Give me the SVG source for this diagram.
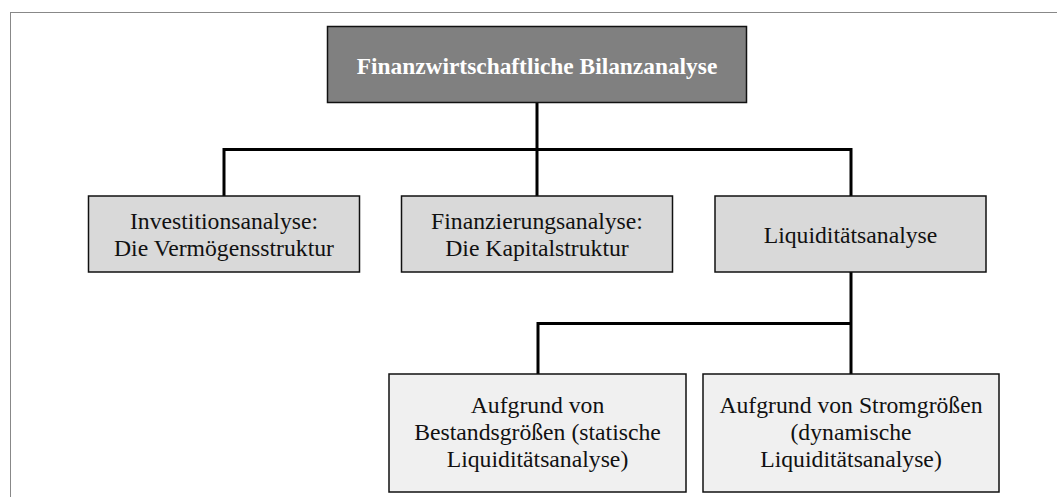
<svg xmlns="http://www.w3.org/2000/svg" width="1057" height="497" viewBox="0 0 1057 497">
<style>
.t{font-family:"Liberation Serif","Times New Roman",serif;font-size:23.7px;fill:#111;text-anchor:middle}
.tb{font-family:"Liberation Serif","Times New Roman",serif;font-size:23.4px;font-weight:bold;fill:#fff;text-anchor:middle}
.b2{fill:#d9d9d9;stroke:#111;stroke-width:1.5}
.b3{fill:#f0f0f0;stroke:#111;stroke-width:1.5}
.c{fill:none;stroke:#000;stroke-width:3}
</style>
<rect x="0" y="0" width="1057" height="497" fill="#fff"/>
<rect x="10.5" y="12.5" width="1100" height="600" fill="none" stroke="#888" stroke-width="1"/>
<g id="connectors">
<path class="c" d="M537 103V149.5M224 196V149.5H851V196M537 149.5V196"/>
<path class="c" d="M851 272V323.5M538 374V323.5H851V374"/>
</g>
<g id="root">
<rect x="327.5" y="26.5" width="419" height="76" fill="#808080" stroke="#111" stroke-width="1.5"/>
<text class="tb" x="537" y="74">Finanzwirtschaftliche Bilanzanalyse</text>
</g>
<g id="investition">
<rect class="b2" x="88.5" y="196" width="271" height="76"/>
<text class="t" x="224" y="229.3">Investitionsanalyse:</text>
<text class="t" x="224" y="256">Die Vermögensstruktur</text>
</g>
<g id="finanzierung">
<rect class="b2" x="401.5" y="196" width="271" height="76"/>
<text class="t" x="537" y="229.3">Finanzierungsanalyse:</text>
<text class="t" x="537" y="256">Die Kapitalstruktur</text>
</g>
<g id="liquiditaet">
<rect class="b2" x="715" y="196" width="271" height="76"/>
<text class="t" x="850.5" y="243.3">Liquiditätsanalyse</text>
</g>
<g id="bestand">
<rect class="b3" x="389" y="374" width="297" height="118"/>
<text class="t" x="537.5" y="413.3">Aufgrund von</text>
<text class="t" x="537.5" y="440">Bestandsgrößen (statische</text>
<text class="t" x="537.5" y="466.7">Liquiditätsanalyse)</text>
</g>
<g id="strom">
<rect class="b3" x="703" y="374" width="296" height="118"/>
<text class="t" x="851" y="413.3">Aufgrund von Stromgrößen</text>
<text class="t" x="851" y="440">(dynamische</text>
<text class="t" x="851" y="466.7">Liquiditätsanalyse)</text>
</g>
</svg>
